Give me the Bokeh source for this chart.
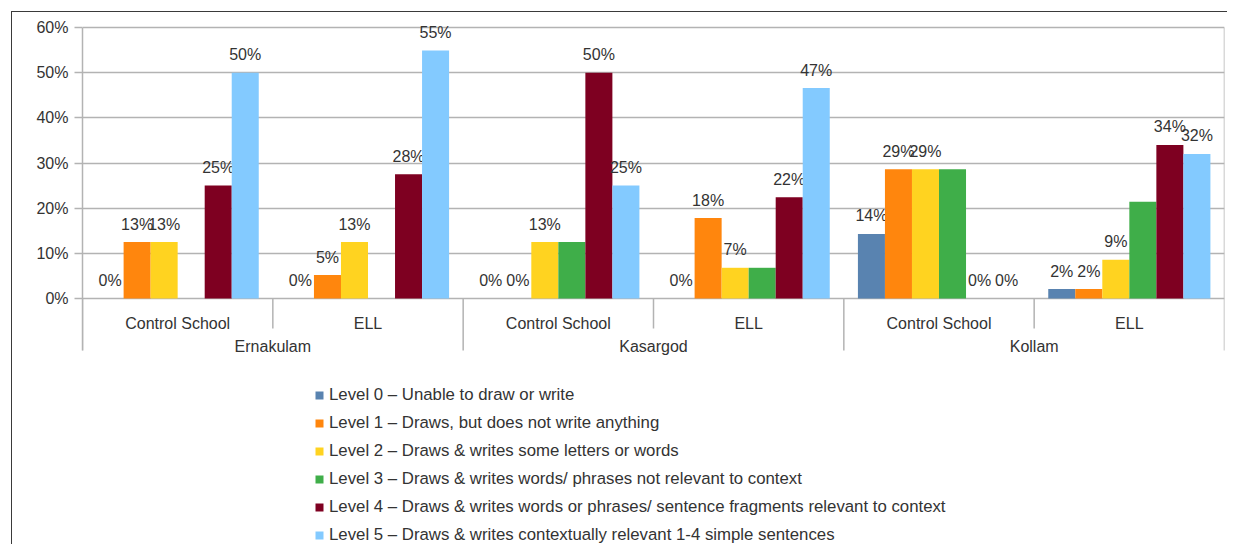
from bokeh.plotting import figure
from bokeh.models import (FactorRange, ColumnDataSource, FixedTicker, PrintfTickFormatter,
                          Legend, LegendItem, Range1d)
from bokeh.transform import dodge
from bokeh.core.properties import value
from bokeh.embed import file_html
from bokeh.resources import INLINE

# ---------------- data ----------------
districts = ["Ernakulam", "Kasargod", "Kollam"]
schools = ["Control School", "ELL"]
level_names = [
    "Level 0 \u2013 Unable to draw or write",
    "Level 1 \u2013 Draws, but does not write anything",
    "Level 2 \u2013 Draws & writes some letters or words",
    "Level 3 \u2013 Draws & writes words/ phrases not relevant to context",
    "Level 4 \u2013 Draws & writes words or phrases/ sentence fragments relevant to context",
    "Level 5 \u2013 Draws & writes contextually relevant 1-4 simple sentences",
]
# order: Ernakulam CS, Ernakulam ELL, Kasargod CS, Kasargod ELL, Kollam CS, Kollam ELL
level0 = [0, 0, 0, 0, 14.3, 2.1]
level1 = [12.5, 5.2, 0, 17.8, 28.6, 2.1]
level2 = [12.5, 12.5, 12.5, 6.8, 28.6, 8.6]
level3 = [None, None, 12.5, 6.8, 28.6, 21.4]
level4 = [25, 27.5, 50, 22.4, 0, 34.0]
level5 = [50, 54.9, 25, 46.6, 0, 32.0]
show_labels = [True, True, True, False, True, True]
y_ticks = [0, 10, 20, 30, 40, 50, 60]

colors = ["#5983b0", "#ff860d", "#ffd320", "#3fae49", "#7e0021", "#83caff"]

# ---------------- layout ----------------
FONT = "Liberation Sans"
W, H = 1216, 533
ML, MR, MT, MB = 70, 4, 0, 0
frame_h = H - MT - MB
px_per_unit = 271.0 / 60.0
y_end = 60 + 15 / px_per_unit
y_start = y_end - frame_h / px_per_unit

factors = [(d, s) for d in districts for s in schools]
series = [level0, level1, level2, level3, level4, level5]

p = figure(width=W, height=H, x_range=FactorRange(*factors, group_padding=0, factor_padding=0,
                                                   range_padding=0),
           y_range=Range1d(y_start, y_end), x_axis_location=None,
           output_backend="svg", toolbar_location=None,
           min_border_left=ML, min_border_right=MR, min_border_top=MT, min_border_bottom=MB)
p.margin = (11, 0, 0, 11)
p.styles = {"border-top": "1.5px solid #3a3a3a", "border-left": "1.5px solid #3a3a3a"}
p.outline_line_color = None
p.background_fill_color = "white"
p.border_fill_color = "white"

p.xgrid.visible = False
p.ygrid.ticker = FixedTicker(ticks=y_ticks)
p.ygrid.grid_line_color = "#b3b3b3"
p.ygrid.grid_line_width = 1.5

yax = p.yaxis[0]
yax.ticker = FixedTicker(ticks=y_ticks)
yax.formatter = PrintfTickFormatter(format="%d%%")
yax.bounds = (-52 / px_per_unit, 60)
yax.axis_line_color = "#b3b3b3"
yax.axis_line_width = 1.5
yax.major_tick_line_color = "#b3b3b3"
yax.major_tick_line_width = 1.5
yax.major_tick_out = 8
yax.major_tick_in = 0
yax.minor_tick_line_color = None
yax.major_label_text_font = FONT
yax.major_label_text_font_size = "16px"
yax.major_label_text_color = "#333333"
yax.major_label_standoff = 6

n = len(level_names)
bw = 0.142
items = []
for i, vals in enumerate(series):
    off = (i - (n - 1) / 2) * bw
    tops = [float("nan") if v is None else v for v in vals]
    labels = ["" if v is None else f"{int(v + 0.5)}%" for v in vals]
    src = ColumnDataSource(dict(x=factors, top=tops, label=labels))
    r = p.vbar(x=dodge("x", off, range=p.x_range), top="top", width=bw, source=src,
               fill_color=colors[i], line_color=None)
    items.append(LegendItem(label=level_names[i], renderers=[r]))
    if show_labels[i]:
        p.text(x=dodge("x", off, range=p.x_range), y="top", text="label", source=src,
               text_font=value(FONT), text_font_size="16px", text_color="#333333",
               text_align="center", text_baseline="alphabetic", y_offset=-18)

# category separators below the axis
short_end = -30 / px_per_unit
long_end = -52 / px_per_unit
sep_src = ColumnDataSource(dict(
    x=factors,
    y0=[0] * len(factors),
    y1=[long_end if s == schools[0] else short_end for (d, s) in factors],
))
p.segment(x0=dodge("x", -0.5, range=p.x_range), y0="y0",
          x1=dodge("x", -0.5, range=p.x_range), y1="y1",
          source=sep_src, line_color="#b3b3b3", line_width=1.5)
end_src = ColumnDataSource(dict(x=[factors[-1]], y0=[60], y1=[long_end]))
p.segment(x0=dodge("x", 0.5, range=p.x_range), y0="y0",
          x1=dodge("x", 0.5, range=p.x_range), y1="y1",
          source=end_src, line_color="#b3b3b3", line_width=1.5)

# category labels
school_src = ColumnDataSource(dict(x=factors, y=[0] * len(factors), t=[s for (d, s) in factors]))
p.text(x="x", y="y", text="t", source=school_src, text_font=value(FONT),
       text_font_size="16px", text_color="#333333", text_align="center",
       text_baseline="alphabetic", y_offset=25)
dist_src = ColumnDataSource(dict(x=[(d, schools[1]) for d in districts], y=[0] * len(districts),
                                 t=districts))
p.text(x=dodge("x", -0.5, range=p.x_range), y="y", text="t", source=dist_src,
       text_font=value(FONT), text_font_size="16px", text_color="#333333",
       text_align="center", text_baseline="alphabetic", y_offset=48)

legend = Legend(items=items, location=(232, 0), orientation="vertical")
legend.label_text_font = FONT
legend.label_text_font_size = "16.8px"
legend.label_text_color = "#333333"
legend.glyph_width = 10
legend.glyph_height = 10
legend.label_standoff = 5
legend.label_height = 19
legend.spacing = 8
legend.padding = 0
legend.margin = 0
legend.border_line_color = None
legend.background_fill_alpha = 0
p.add_layout(legend)

open("out.html", "w").write(file_html(p, INLINE))
